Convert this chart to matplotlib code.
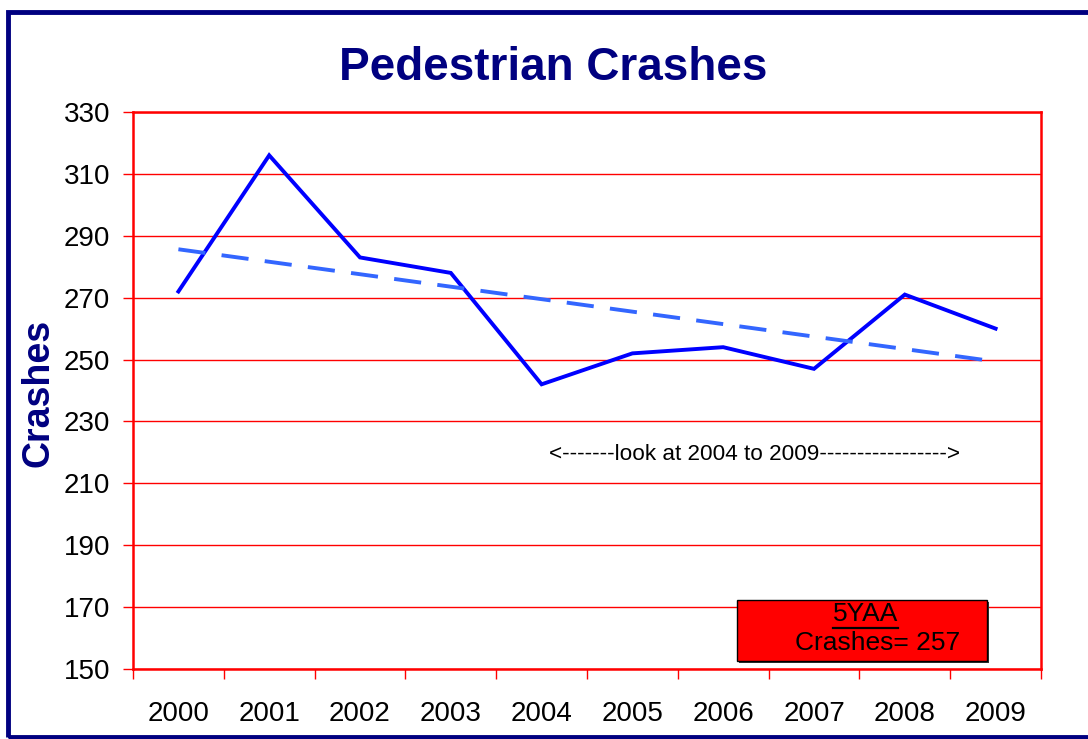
import numpy as np
import matplotlib.pyplot as plt
from matplotlib.patches import Rectangle
from matplotlib.lines import Line2D

plt.rcParams['font.family'] = ['Liberation Sans', 'DejaVu Sans']

years = ['2000', '2001', '2002', '2003', '2004', '2005', '2006', '2007', '2008', '2009']
crashes = [272, 316, 283, 278, 242, 252, 254, 247, 271, 260]
avg_years = [2005, 2006, 2007, 2008, 2009]
y_ticks = [150, 170, 190, 210, 230, 250, 270, 290, 310, 330]

navy = '#000080'
W, H = 1088, 739

fig = plt.figure(figsize=(W / 100, H / 100), dpi=100)
fig.patch.set_facecolor('white')

# outer navy frame (runs off the right edge)
fig.add_artist(Rectangle((8 / W, 1 - 737 / H), 1.2, (737 - 12) / H,
                         transform=fig.transFigure, fill=False,
                         edgecolor=navy, linewidth=3.5))

ax = fig.add_axes([133 / W, 1 - 669 / H, (1041 - 133) / W, (669 - 112) / H])

x = np.arange(len(years))
ax.plot(x, crashes, color='#0000FF', linewidth=2.8, solid_joinstyle='miter', zorder=3)

# linear trend
slope, icpt = np.polyfit(x, crashes, 1)
ax.plot(x, slope * x + icpt, color='#3366FF', linewidth=2.8,
        dashes=(7, 4.2), zorder=3)

ax.set_xlim(-0.5, len(years) - 0.5)
ax.set_ylim(150, 330)
ax.set_yticks(y_ticks)
ax.set_yticklabels([str(v) for v in y_ticks], fontsize=20)

# category borders as major ticks, year labels on minor ticks
ax.set_xticks(np.arange(len(years) + 1) - 0.5)
ax.set_xticklabels([])
ax.set_xticks(x, minor=True)
ax.set_xticklabels(years, minor=True, fontsize=20)
ax.tick_params(axis='x', which='major', direction='out', length=7.5, width=1, color='red')
ax.tick_params(axis='x', which='minor', length=0, pad=23)
ax.tick_params(axis='y', direction='out', length=7.5, width=1, color='red', pad=9)

ax.grid(axis='y', color='red', linewidth=1)
ax.set_axisbelow(True)
for s in ax.spines.values():
    s.set_color('red')
    s.set_linewidth(1.8)

fig.text(553 / W, 1 - 68 / H, 'Pedestrian Crashes', color=navy, fontsize=33,
         fontweight='bold', ha='center', va='center')
fig.text(38 / W, 1 - 393 / H, 'Crashes', color=navy, fontsize=27,
         fontweight='bold', rotation=90, ha='center', va='center')

ax.text(6.34, 219.2, '<-------look at 2004 to 2009----------------->', fontsize=16.2,
        ha='center', va='center')

# five-year average box
avg = np.mean([crashes[years.index(str(y))] for y in avg_years])
bx0, by0, bx1, by1 = 737, 600, 987, 661
fig.add_artist(Rectangle(((bx0 + 2) / W, 1 - (by1 + 2) / H), (bx1 - bx0) / W, (by1 - by0) / H,
                         transform=fig.transFigure, facecolor='#333333',
                         edgecolor='none', zorder=4))
fig.add_artist(Rectangle((bx0 / W, 1 - by1 / H), (bx1 - bx0) / W, (by1 - by0) / H,
                         transform=fig.transFigure, facecolor='#FF0000',
                         edgecolor='black', linewidth=1, zorder=5))
fig.text(866 / W, 1 - 614 / H, '5YAA', fontsize=19, ha='center', va='center', zorder=6)
fig.add_artist(Line2D([833 / W, 898 / W], [1 - 628 / H, 1 - 628 / H],
                      transform=fig.transFigure, color='black', linewidth=1.6, zorder=6))
fig.text(878 / W, 1 - 643 / H, f'Crashes= {avg:.0f}', fontsize=19,
         ha='center', va='center', zorder=6)

fig.savefig('out.png', dpi=100)
